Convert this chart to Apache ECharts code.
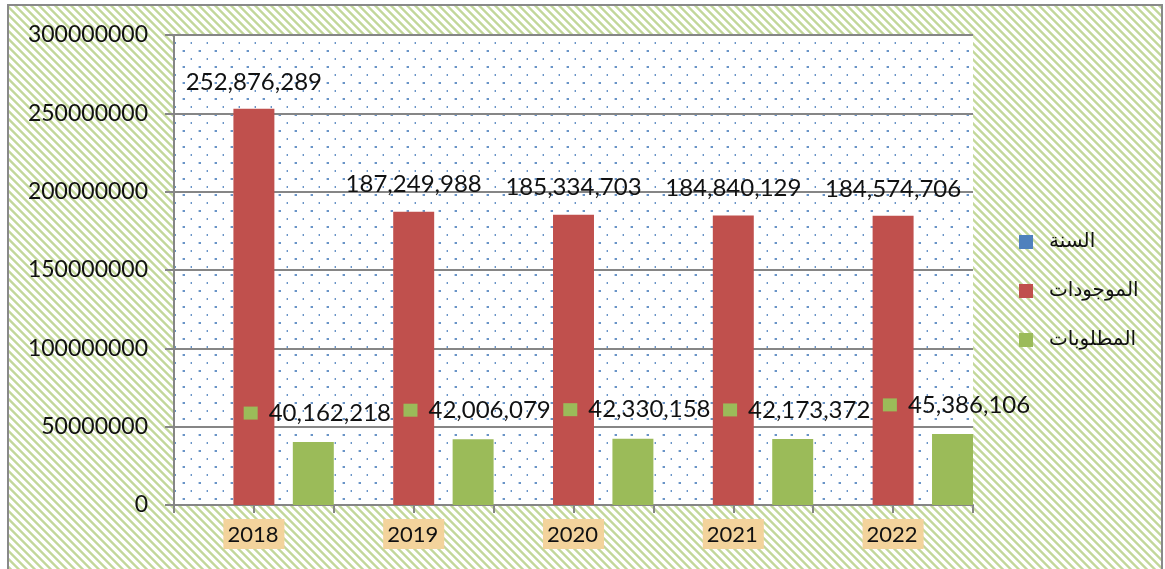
<!DOCTYPE html>
<html>
<head>
<meta charset="utf-8">
<script src="https://cdn.jsdelivr.net/npm/echarts@6/dist/echarts.min.js"></script>
<style>
html,body{margin:0;padding:0;background:#fff;}
#chart{width:1165px;height:569px;}
</style>
</head>
<body>
<div id="chart"></div>
<script>
const categories = ['2018', '2019', '2020', '2021', '2022'];
const seriesNames = ['السنة', 'الموجودات', 'المطلوبات'];
const yearValues = [2018, 2019, 2020, 2021, 2022];
const assets = [252876289, 187249988, 185334703, 184840129, 184574706];
const liabilities = [40162218, 42006079, 42330158, 42173372, 45386106];
const yTicks = [0, 50000000, 100000000, 150000000, 200000000, 250000000, 300000000];

function hatchPattern() {
  const c = document.createElement('canvas');
  c.width = 8; c.height = 8;
  const g = c.getContext('2d');
  g.fillStyle = '#ffffff';
  g.fillRect(0, 0, 8, 8);
  const cols = {0: '#d6e5b9', 1: '#c3d79b', 2: '#c3d79b', 3: '#d6e5b9'};
  for (let y = 0; y < 8; y++) {
    for (let x = 0; x < 8; x++) {
      const d = ((x - y) % 8 + 8) % 8;
      if (cols[d]) { g.fillStyle = cols[d]; g.fillRect(x, y, 1, 1); }
    }
  }
  return c;
}
function dotPattern() {
  const c = document.createElement('canvas');
  c.width = 16; c.height = 16;
  const g = c.getContext('2d');
  g.fillStyle = '#ffffff';
  g.fillRect(0, 0, 16, 16);
  g.fillStyle = 'rgba(79,129,189,0.85)';
  g.fillRect(7, 2, 2, 2);
  g.fillRect(15, 10, 2, 2);
  g.fillStyle = 'rgba(79,129,189,0.35)';
  g.fillRect(6, 2, 1, 2);
  g.fillRect(14, 10, 1, 2);
  return c;
}
const fmt = v => Number(v).toLocaleString('en-US');

const chart = echarts.init(document.getElementById('chart'), null, {renderer: 'canvas'});
const option = {
  backgroundColor: '#ffffff',
  animation: false,
  textStyle: {fontFamily: 'Lato'},
  graphic: [
    {type: 'rect', z: -100, silent: true, shape: {x: 8, y: 5, width: 1154, height: 570},
     style: {fill: {image: hatchPattern(), repeat: 'repeat'}}},
    {type: 'rect', z: 100, silent: true, shape: {x: 8, y: 5, width: 1154, height: 570},
     style: {fill: 'none', stroke: '#898989', lineWidth: 2}}
  ],
  grid: {
    left: 174, right: 192, top: 35, bottom: 64,
    show: true, borderWidth: 0,
    backgroundColor: {image: dotPattern(), repeat: 'repeat'}
  },
  legend: {
    orient: 'vertical',
    left: 1014, top: 227,
    itemWidth: 14, itemHeight: 14, itemGap: 29,
    icon: 'rect',
    data: seriesNames,
    textStyle: {fontFamily: 'DejaVu Sans', fontSize: 20, color: '#111', lineHeight: 20, padding: [0, 0, 0, 11]}
  },
  xAxis: [{
    type: 'category',
    data: categories,
    axisLine: {show: true, lineStyle: {color: '#868686', width: 2}},
    axisTick: {show: true, length: 8, alignWithLabel: false, lineStyle: {color: '#868686', width: 2}},
    axisLabel: {
      margin: 14, fontSize: 22, color: '#111', fontFamily: 'Lato',
      backgroundColor: '#f3d39c', padding: [4, 6, 3, 4], lineHeight: 23
    }
  }, {
    type: 'category',
    data: categories,
    position: 'bottom',
    axisLine: {show: false},
    axisTick: {show: true, length: 8, alignWithLabel: true, lineStyle: {color: '#868686', width: 2}},
    axisLabel: {show: false}
  }],
  yAxis: {
    type: 'value',
    min: 0, max: 300000000, interval: 50000000,
    axisLine: {show: true, lineStyle: {color: '#868686', width: 2}},
    axisTick: {show: true, length: 9, lineStyle: {color: '#868686', width: 2}},
    splitLine: {show: true, lineStyle: {color: '#868686', width: 2}},
    axisLabel: {
      margin: 26, fontSize: 23, color: '#111', fontFamily: 'Lato',
      formatter: v => yTicks.includes(v) ? String(v) : ''
    }
  },
  series: [
    {
      name: seriesNames[0], type: 'bar', data: yearValues,
      barCategoryGap: '0%', barGap: '45%',
      itemStyle: {color: '#4f81bd'}
    },
    {
      name: seriesNames[1], type: 'bar', data: assets,
      barCategoryGap: '0%', barGap: '45%',
      itemStyle: {color: '#c0504d'},
      label: {
        show: true, position: 'top', distance: 15,
        fontSize: 24, color: '#111', fontFamily: 'Lato',
        formatter: p => fmt(p.value)
      }
    },
    {
      name: seriesNames[2], type: 'bar', data: liabilities,
      barCategoryGap: '0%', barGap: '45%',
      itemStyle: {color: '#9bbb59'},
      label: {
        show: true, position: 'top', distance: 17, offset: [4, 0],
        color: '#111', fontFamily: 'Lato',
        formatter: p => '{sq|}{v|' + fmt(p.value) + '}',
        rich: {
          sq: {width: 14, height: 13, backgroundColor: '#9bbb59'},
          v: {fontSize: 24, color: '#111', fontFamily: 'Lato', padding: [0, 0, 0, 11]}
        }
      }
    }
  ]
};
chart.setOption(option);
</script>
</body>
</html>
